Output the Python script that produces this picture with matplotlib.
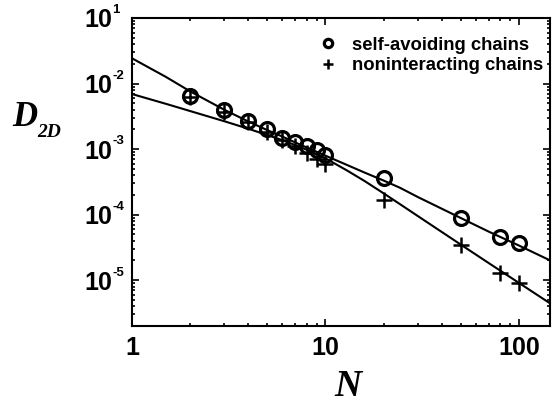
import numpy as np
from matplotlib import pyplot as plt
from matplotlib.ticker import LogLocator, NullFormatter, FixedLocator

N_pts = [2, 3, 4, 5, 6, 7, 8, 9, 10, 20, 50, 80, 100]
D_self_avoiding = [6.4e-3, 3.9e-3, 2.7e-3, 2.0e-3, 1.5e-3, 1.3e-3, 1.12e-3,
                   9.7e-4, 8.2e-4, 3.6e-4, 8.9e-5, 4.5e-5, 3.7e-5]
D_noninteracting = [6.3e-3, 3.7e-3, 2.6e-3, 1.8e-3, 1.38e-3, 1.1e-3, 8.6e-4,
                    7.1e-4, 6.0e-4, 1.7e-4, 3.4e-5, 1.3e-5, 9.1e-6]

# fitted curves (log10 D)
N_fit = [1, 1.5, 2, 3, 4, 5, 6, 7, 8, 10, 13, 16, 20, 24.3, 30, 50, 70, 100, 148]
logD_fit_sa = [-1.615, -1.90, -2.12, -2.40, -2.58, -2.71, -2.81, -2.90, -2.975,
               -3.10, -3.245, -3.36, -3.48, -3.59, -3.73, -4.05, -4.26, -4.47, -4.71]
logD_fit_ni = [-2.16, -2.31, -2.42, -2.575, -2.69, -2.785, -2.865, -2.94, -3.01,
               -3.14, -3.33, -3.49, -3.675, -3.84, -4.02, -4.455, -4.74, -5.04, -5.37]

y_ticks = [1e-5, 1e-4, 1e-3, 1e-2, 1e-1]
y_exponents = ['-5', '-4', '-3', '-2', '1']
x_ticks = [1, 10, 100]
x_ticklabels = ['1', '10', '100']

plt.rcParams['font.family'] = ['Liberation Sans', 'DejaVu Sans']
plt.rcParams['font.weight'] = 'bold'


def main():
    fig = plt.figure(figsize=(5.52, 4.07), dpi=100)
    ax = fig.add_axes([0.2391, 0.199, 0.9964 - 0.2391, 0.9558 - 0.199])

    ax.plot(N_fit, 10 ** np.array(logD_fit_sa), 'k-', lw=1.5)
    ax.plot(N_fit, 10 ** np.array(logD_fit_ni), 'k-', lw=1.5)

    ax.plot(N_pts, D_self_avoiding, 'o', mfc='none', mec='k', ms=10, mew=2.3,
            label='self-avoiding chains')
    ax.plot(N_pts, D_noninteracting, '+', color='k', ms=12, mew=1.8,
            label='noninteracting chains')

    ax.set_xscale('log')
    ax.set_yscale('log')
    ax.set_xlim(1, 145)
    ax.set_ylim(2e-6, 1e-1)

    ax.set_xticks(x_ticks)
    ax.set_xticklabels(x_ticklabels)
    ax.yaxis.set_major_locator(FixedLocator(y_ticks))
    ax.set_yticklabels(['10'] * len(y_ticks))
    ax.yaxis.set_minor_locator(LogLocator(base=10, subs=np.arange(2, 10), numticks=20))
    ax.yaxis.set_minor_formatter(NullFormatter())
    ax.xaxis.set_minor_locator(LogLocator(base=10, subs=np.arange(2, 10), numticks=20))
    ax.xaxis.set_minor_formatter(NullFormatter())

    ax.tick_params(which='both', direction='in', top=True, right=True, width=1.2)
    ax.tick_params(which='major', length=5, labelsize=18)
    ax.tick_params(axis='x', which='major', pad=7)
    ax.tick_params(axis='y', which='major', pad=14)
    ax.tick_params(which='minor', length=2.5)
    for s in ax.spines.values():
        s.set_linewidth(1.5)

    # small exponents next to the "10" labels
    for v, e in zip(y_ticks, y_exponents):
        ax.annotate(e, xy=(0, v), xycoords=('axes fraction', 'data'),
                    xytext=(-14.2, 1.2), textcoords='offset points',
                    fontsize=9.5, fontweight='bold', ha='left', va='bottom',
                    annotation_clip=False)

    fig.text(348 / 552, 1 - 387 / 407, 'N', fontsize=27, family='Liberation Serif',
             style='italic', fontweight='bold', ha='center', va='center')
    fig.text(12 / 552, 1 - 126 / 407, 'D', fontsize=25, family='Liberation Serif',
             style='italic', fontweight='bold', ha='left', va='baseline')
    fig.text(37 / 552, 1 - 137 / 407, '2D', fontsize=14, family='Liberation Serif',
             style='italic', fontweight='bold', ha='left', va='baseline')

    ax.legend(loc='upper left', bbox_to_anchor=(318.7 / 552, 1 - 36.5 / 407),
              bbox_transform=fig.transFigure, frameon=False,
              fontsize=13.3, markerscale=0.6, handlelength=1.0, handletextpad=0.8,
              labelspacing=0.2, borderpad=0, borderaxespad=0)

    fig.savefig('out.png', dpi=100)

main()
